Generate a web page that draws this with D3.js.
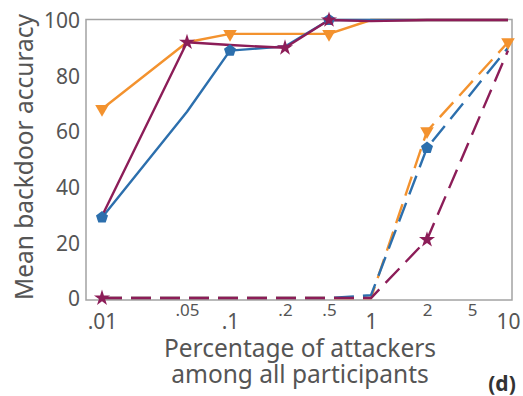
<!DOCTYPE html>
<html>
<head>
<meta charset="utf-8">
<script src="https://cdn.jsdelivr.net/npm/d3@7"></script>
<style>
  html, body { margin: 0; padding: 0; background: #fff; }
  svg { display: block; font-family: "Noto Sans", "Open Sans", sans-serif; }
</style>
</head>
<body>
<svg id="chart" width="523" height="396"></svg>
<script>
// Share of attackers (percent) at which each configuration was evaluated
const attackerShare = [0.01, 0.05, 0.1, 0.2, 0.5, 1, 2, 10];

// Mean backdoor accuracy (%) per configuration
const orangeSolid  = [68, 92, 95, 95, 95, 100, 100, 100];
const blueSolid    = [29, 67, 89, 90.5, 100, 100, 100, 100];
const purpleSolid  = [29.5, 92, 91, 90, 100, 99.6, 100, 100];
const orangeDashed = [0, 0, 0, 0, 0, 0, 60, 92];
const blueDashed   = [0, 0, 0, 0, 0, 1, 54, 90];
const purpleDashed = [0, 0, 0, 0, 0, 0, 21, 89];

// Points that carry a marker on each curve
const orangeSolidMarks  = [0.01, 0.1, 0.5];
const blueSolidMarks    = [0.01, 0.1, 0.5];
const purpleSolidMarks  = [0.05, 0.2, 0.5];
const orangeDashedMarks = [2, 10];
const blueDashedMarks   = [2];
const purpleDashedMarks = [0.01, 2];

// Axis ticks
const xTicks = [0.01, 0.05, 0.1, 0.2, 0.5, 1, 2, 5, 10];
const xTickLabels = [".01", ".05", ".1", ".2", ".5", "1", "2", "5", "10"];
const xMajorTicks = [0.01, 0.1, 1, 10];
const yTicks = [0, 20, 40, 60, 80, 100];

const colors = { orange: "#f3922e", blue: "#2c6fad", purple: "#8c1d58" };
const textColor = "#555";

const frame = { left: 86, right: 512, top: 19.5, bottom: 300 };
// Horizontal stops of the tick positions along the plot (pixels)
const xStops = [102, 187, 230, 285, 329, 371, 427, 472, 508];

const svg = d3.select("#chart");

const x = d3.scaleLog().domain(xTicks).range(xStops);
const y = d3.scaleLinear().domain([-0.7, 100]).range([frame.bottom, 20]);

// Frame
svg.append("rect")
  .attr("x", frame.left).attr("y", frame.top)
  .attr("width", frame.right - frame.left)
  .attr("height", frame.bottom - frame.top)
  .attr("fill", "none").attr("stroke", "#a3a3a3").attr("stroke-width", 1.5);

// Y axis labels
const yAxis = d3.axisLeft(y).tickValues(yTicks).tickSize(0).tickPadding(6);
const gy = svg.append("g").attr("transform", `translate(${frame.left},0)`).call(yAxis);
gy.select(".domain").remove();
gy.selectAll("text")
  .attr("fill", textColor)
  .style("font-family", "'Noto Sans', sans-serif")
  .style("font-size", "21px")
  .attr("dy", "0.36em");

// X axis labels (decades lower and larger, intermediate values raised and smaller)
const xAxis = d3.axisBottom(x).tickValues(xTicks).tickSize(0)
  .tickFormat((d, i) => xTickLabels[i]);
const gx = svg.append("g").attr("transform", `translate(0,${frame.bottom})`).call(xAxis);
gx.select(".domain").remove();
gx.selectAll(".tick text")
  .attr("fill", textColor)
  .style("font-family", "'Noto Sans', sans-serif")
  .attr("dy", null)
  .attr("y", d => xMajorTicks.includes(d) ? 29 : 16)
  .style("font-size", d => xMajorTicks.includes(d) ? "21px" : "17px");

// Axis titles
svg.append("text")
  .attr("transform", "translate(33,157) rotate(-90)")
  .attr("text-anchor", "middle")
  .attr("fill", textColor)
  .style("font-size", "24.5px")
  .text("Mean backdoor accuracy");

svg.append("text")
  .attr("x", 300).attr("y", 357)
  .attr("text-anchor", "middle")
  .attr("fill", textColor)
  .style("font-size", "24.5px")
  .text("Percentage of attackers");
svg.append("text")
  .attr("x", 300).attr("y", 383)
  .attr("text-anchor", "middle")
  .attr("fill", textColor)
  .style("font-size", "24.5px")
  .text("among all participants");

svg.append("text")
  .attr("x", 502).attr("y", 391)
  .attr("text-anchor", "middle")
  .attr("fill", "#333")
  .style("font-size", "21px")
  .style("font-weight", "bold")
  .text("(d)");

// Curves
const line = d3.line().x(d => x(d[0])).y(d => y(d[1]));

const series = [
  { values: orangeDashed, color: colors.orange, dashed: true,  marks: orangeDashedMarks, shape: "triangle" },
  { values: blueDashed,   color: colors.blue,   dashed: true,  marks: blueDashedMarks,   shape: "pentagon" },
  { values: purpleDashed, color: colors.purple, dashed: true,  marks: purpleDashedMarks, shape: "star" },
  { values: orangeSolid,  color: colors.orange, dashed: false, marks: orangeSolidMarks,  shape: "triangle" },
  { values: blueSolid,    color: colors.blue,   dashed: false, marks: blueSolidMarks,    shape: "pentagon" },
  { values: purpleSolid,  color: colors.purple, dashed: false, marks: purpleSolidMarks,  shape: "star" }
];

const pentagon = {
  draw(context, size) {
    const r = Math.sqrt(size / 2.3776);
    for (let i = 0; i < 5; i++) {
      const a = -Math.PI / 2 + i * 2 * Math.PI / 5;
      const px = r * Math.cos(a), py = r * Math.sin(a);
      if (i === 0) context.moveTo(px, py); else context.lineTo(px, py);
    }
    context.closePath();
  }
};

const shapes = {
  triangle: { type: d3.symbolTriangle, size: 80, rotate: 180 },
  pentagon: { type: pentagon, size: 95, rotate: 0 },
  star:     { type: d3.symbolStar, size: 80, rotate: 0 }
};

series.forEach(s => {
  const pts = attackerShare.map((v, i) => [v, s.values[i]]);
  svg.append("path")
    .datum(pts)
    .attr("d", line)
    .attr("fill", "none")
    .attr("stroke", s.color)
    .attr("stroke-width", 2.4)
    .attr("stroke-linejoin", "round")
    .attr("stroke-dasharray", s.dashed ? "20,9" : null);
});

series.forEach(s => {
  const shape = shapes[s.shape];
  const pts = attackerShare.map((v, i) => [v, s.values[i]]).filter(p => s.marks.includes(p[0]));
  svg.selectAll(null)
    .data(pts)
    .enter().append("path")
    .attr("d", d3.symbol().type(shape.type).size(shape.size))
    .attr("transform", d => `translate(${x(d[0])},${y(d[1])}) rotate(${shape.rotate})`)
    .attr("fill", s.color);
});
</script>
</body>
</html>
